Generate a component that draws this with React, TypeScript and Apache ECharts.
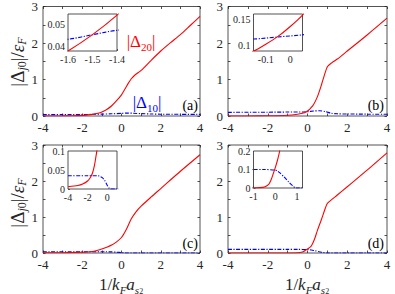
import React, { useEffect, useRef } from "react";
import * as echarts from "echarts";

// ---- data (x, |Δ20|) and (x, |Δ10|) for the four panels ----
const redA: [number, number][] = [
  [-4, 0.001], [-3, 0.003], [-2.5, 0.007], [-2, 0.016], [-1.8, 0.025], [-1.6, 0.038], [-1.5, 0.0455], [-1.4, 0.0545],
  [-1.2, 0.075], [-1, 0.11], [-0.75, 0.18], [-0.5, 0.28], [-0.25, 0.42], [0, 0.58], [0.2, 0.76], [0.35, 0.9],
  [0.5, 1.02], [0.7, 1.13], [1, 1.25], [1.5, 1.52], [2, 1.78], [2.5, 2.01], [3, 2.23], [3.5, 2.48], [4, 2.73],
];
const blueA: [number, number][] = [
  [-4, 0.037], [-3, 0.039], [-2, 0.041], [-1.6, 0.0434], [-1.5, 0.0455], [-1.4, 0.0475], [-1, 0.052], [-0.5, 0.06],
  [0, 0.072], [0.3, 0.08], [0.6, 0.076], [1, 0.064], [1.5, 0.055], [2, 0.05], [3, 0.046], [4, 0.044],
];
const redB: [number, number][] = [
  [-4, 0], [-3, 0.002], [-2, 0.006], [-1, 0.02], [-0.5, 0.05], [-0.25, 0.078], [-0.15, 0.089], [-0.1, 0.102],
  [-0.05, 0.117], [0, 0.136], [0.05, 0.158], [0.15, 0.21], [0.3, 0.31], [0.5, 0.53], [0.7, 0.85], [0.85, 1.12],
  [1, 1.35], [1.2, 1.45], [1.5, 1.56], [2, 1.78], [3, 2.22], [4, 2.68],
];
const blueB: [number, number][] = [
  [-4, 0.1], [-2, 0.104], [-1, 0.108], [-0.15, 0.112], [-0.05, 0.116], [0.05, 0.12], [0.3, 0.135], [0.6, 0.145],
  [0.9, 0.12], [1.2, 0.075], [1.5, 0.06], [2, 0.055], [3, 0.05], [4, 0.048],
];
const redC: [number, number][] = [
  [-4, 0.006], [-3, 0.009], [-2.5, 0.013], [-2, 0.021], [-1.75, 0.029], [-1.5, 0.042], [-1.3, 0.062], [-1.15, 0.085],
  [-1, 0.11], [-0.75, 0.16], [-0.5, 0.22], [-0.25, 0.31], [0, 0.43], [0.25, 0.66], [0.5, 0.95], [0.75, 1.15],
  [1, 1.3], [1.5, 1.55], [2, 1.79], [3, 2.27], [4, 2.73],
];
const blueC: [number, number][] = [
  [-4, 0.035], [-2, 0.035], [-1, 0.035], [-0.8, 0.034], [-0.5, 0.03], [-0.25, 0.022], [0, 0.01], [0.2, 0.002],
  [0.3, 0], [1, 0], [4, 0],
];
const redD: [number, number][] = [
  [-4, 0], [-1, 0], [-0.7, 0.002], [-0.5, 0.006], [-0.3, 0.02], [-0.2, 0.042], [-0.1, 0.075], [0, 0.11],
  [0.1, 0.15], [0.2, 0.2], [0.35, 0.38], [0.5, 0.63], [0.7, 0.93], [0.9, 1.25], [1, 1.38], [1.5, 1.61],
  [2, 1.84], [3, 2.3], [4, 2.78],
];
const blueD: [number, number][] = [
  [-4, 0.1], [-1, 0.1], [-0.5, 0.1], [0, 0.097], [0.1, 0.092], [0.2, 0.083], [0.4, 0.06], [0.6, 0.035],
  [0.8, 0.012], [0.95, 0], [4, 0],
];

const panelLetters = ["(a)", "(b)", "(c)", "(d)"];
const mainXTicks = [-4, -2, 0, 2, 4];
const mainYTicks = [0, 1, 2, 3];
const insetXTicks = [[-1.6, -1.5, -1.4], [-0.1, 0], [-4, -2, 0], [-1, 0, 1]];
const insetYTicks = [[0.04, 0.05], [0.1, 0.15], [0, 0.05, 0.1], [0, 0.1, 0.2]];
const insetXRange = [[-1.6, -1.4], [-0.15, 0.05], [-4, 1], [-1, 1.25]];
const insetYRange = [[0.038, 0.055], [0.089, 0.16], [0, 0.1], [0, 0.2]];

const FONT = "Liberation Serif";
const AX = "#262626";
const RED = "#ff0000";
const BLUE = "#0000ff";

const mainGrids = [
  { left: 43, top: 5, width: 157, height: 111 },
  { left: 228, top: 5, width: 159, height: 111 },
  { left: 43, top: 145, width: 157, height: 108 },
  { left: 228, top: 145, width: 159, height: 108 },
];
const insetGrids = [
  { left: 68, top: 14, width: 49, height: 37 },
  { left: 253.5, top: 14, width: 49, height: 37 },
  { left: 68, top: 151, width: 49, height: 38 },
  { left: 253.5, top: 151, width: 49, height: 37 },
];

const fmt = (v: number) => String(Math.round(v * 1000) / 1000);

export default function App() {
  const ref = useRef<HTMLDivElement>(null);
  useEffect(() => {
    if (!ref.current) return;
    const chart = echarts.init(ref.current, null, { renderer: "svg" });
    const reds = [redA, redB, redC, redD];
    const blues = [blueA, blueB, blueC, blueD];

    const grid: any[] = [];
    const xAxis: any[] = [];
    const yAxis: any[] = [];
    const series: any[] = [];

    const lineSeries = (data: any, xi: number, yi: number, color: string, dashed: boolean, z: number) => ({
      type: "line",
      data,
      xAxisIndex: xi,
      yAxisIndex: yi,
      showSymbol: false,
      symbol: "none",
      smooth: 0.25,
      clip: true,
      z,
      lineStyle: { color, width: 1.1, type: dashed ? [4, 1.5, 1.2, 1.5] : "solid" },
    });

    const noLine = { show: false, onZero: false };

    for (let i = 0; i < 4; i++) {
      grid.push({ ...mainGrids[i], show: true, borderColor: AX, borderWidth: 0.8, backgroundColor: "#fff", z: 0 });
    }
    for (let i = 0; i < 4; i++) {
      grid.push({ ...insetGrids[i], show: true, borderColor: AX, borderWidth: 0.8, backgroundColor: "#fff", z: 5 });
    }
    // main axes (bottom/left): indices 0..3
    for (let i = 0; i < 4; i++) {
      xAxis.push({
        type: "value", gridIndex: i, min: -4, max: 4, interval: 1, position: "bottom",
        axisLine: noLine, splitLine: { show: false },
        axisTick: { show: true, inside: true, length: 2.5, lineStyle: { color: AX, width: 0.8 } },
        axisLabel: {
          color: AX, fontFamily: FONT, fontSize: 13, margin: 5,
          formatter: (v: number) => (mainXTicks.includes(Math.round(v * 1000) / 1000) ? fmt(v) : ""),
        },
      });
      yAxis.push({
        type: "value", gridIndex: i, min: 0, max: 3, interval: 0.5, position: "left",
        axisLine: noLine, splitLine: { show: false },
        axisTick: { show: true, inside: true, length: 2.5, lineStyle: { color: AX, width: 0.8 } },
        axisLabel: {
          color: AX, fontFamily: FONT, fontSize: 13, margin: 5,
          formatter: (v: number) => (mainYTicks.includes(Math.round(v * 1000) / 1000) ? fmt(v) : ""),
        },
      });
    }
    // inset axes: indices 4..7
    for (let i = 0; i < 4; i++) {
      xAxis.push({
        type: "value", gridIndex: 4 + i, min: insetXRange[i][0], max: insetXRange[i][1], position: "bottom",
        axisLine: noLine, splitLine: { show: false },
        axisTick: { show: true, inside: true, length: 2, customValues: insetXTicks[i], lineStyle: { color: AX, width: 0.7 } },
        axisLabel: { color: AX, fontFamily: FONT, fontSize: 10, margin: 3, customValues: insetXTicks[i], formatter: (v: number) => fmt(v), showMinLabel: true, showMaxLabel: true },
      });
      yAxis.push({
        type: "value", gridIndex: 4 + i, min: insetYRange[i][0], max: insetYRange[i][1], position: "left",
        axisLine: noLine, splitLine: { show: false },
        axisTick: { show: true, inside: true, length: 2, customValues: insetYTicks[i], lineStyle: { color: AX, width: 0.7 } },
        axisLabel: { color: AX, fontFamily: FONT, fontSize: 10, margin: 3, customValues: insetYTicks[i], formatter: (v: number) => fmt(v), showMinLabel: true, showMaxLabel: true },
      });
    }
    // main top/right tick-only axes: indices 8..11
    for (let i = 0; i < 4; i++) {
      xAxis.push({
        type: "value", gridIndex: i, min: -4, max: 4, interval: 1, position: "top",
        axisLine: noLine, splitLine: { show: false }, axisLabel: { show: false },
        axisTick: { show: true, inside: true, length: 2.5, lineStyle: { color: AX, width: 0.8 } },
      });
      yAxis.push({
        type: "value", gridIndex: i, min: 0, max: 3, interval: 0.5, position: "right",
        axisLine: noLine, splitLine: { show: false }, axisLabel: { show: false },
        axisTick: { show: true, inside: true, length: 2.5, lineStyle: { color: AX, width: 0.8 } },
      });
    }

    for (let i = 0; i < 4; i++) {
      series.push(lineSeries(blues[i], i, i, BLUE, true, 2));
      series.push(lineSeries(reds[i], i, i, RED, false, 3));
      series.push(lineSeries(blues[i], 4 + i, 4 + i, BLUE, true, 6));
      series.push(lineSeries(reds[i], 4 + i, 4 + i, RED, false, 7));
    }

    const sub = { fontFamily: FONT, fontSize: 11, lineHeight: 10, verticalAlign: "bottom" };
    const subIt = { ...sub, fontStyle: "italic" };
    const big = (size: number) => ({ fontFamily: FONT, fontSize: size, lineHeight: 22 });
    const bigIt = (size: number) => ({ fontFamily: FONT, fontSize: size, lineHeight: 22, fontStyle: "italic" });

    const yTitle = (y: number) => ({
      type: "text", x: 17, y, rotation: Math.PI / 2, z: 20,
      style: {
        text: "{n||Δ}{si|j}{s|0}{n||/}{i|ε}{si|F}",
        align: "center", verticalAlign: "middle", fill: AX, fontFamily: FONT,
        rich: { n: { ...big(19), fill: AX }, i: { ...bigIt(19), fill: AX }, s: { ...sub, fontSize: 12, fill: AX }, si: { ...subIt, fontSize: 12, fill: AX } },
      },
    });
    const xTitle = (x: number) => ({
      type: "text", x, y: 284, z: 20,
      style: {
        text: "{n|1/}{i|k}{si|F}{i|a}{si|s}{ss|2}",
        align: "center", verticalAlign: "middle", fill: AX, fontFamily: FONT,
        rich: {
          n: { ...big(17), fill: AX }, i: { ...bigIt(17), fill: AX }, si: { ...subIt, fontSize: 11, fill: AX },
          ss: { fontFamily: FONT, fontSize: 8, lineHeight: 5, verticalAlign: "bottom", fill: AX },
        },
      },
    });
    const letterPos = [[198, 105], [384, 105], [198, 243], [384, 243]];
    const graphic: any[] = [
      yTitle(62), yTitle(203), xTitle(121), xTitle(307),
      ...panelLetters.map((t, i) => ({
        type: "text", x: letterPos[i][0], y: letterPos[i][1], z: 20,
        style: { text: t, align: "right", verticalAlign: "middle", fill: "#000", fontFamily: FONT, fontSize: 14 },
      })),
      {
        type: "text", x: 141, y: 41, z: 20,
        style: {
          text: "{n||Δ}{s|20}{n||}", align: "center", verticalAlign: "middle", fontFamily: FONT,
          rich: { n: { ...big(17), fill: RED }, s: { ...sub, fill: RED } },
        },
      },
      {
        type: "text", x: 147, y: 102, z: 20,
        style: {
          text: "{n||Δ}{s|10}{n||}", align: "center", verticalAlign: "middle", fontFamily: FONT,
          rich: { n: { ...big(17), fill: BLUE }, s: { ...sub, fill: BLUE } },
        },
      },
    ];

    chart.setOption({ animation: false, backgroundColor: "#fff", grid, xAxis, yAxis, series, graphic });
    return () => chart.dispose();
  }, []);
  return <div ref={ref} style={{ position: "fixed", left: 0, top: 0, width: 395, height: 294 }} />;
}
